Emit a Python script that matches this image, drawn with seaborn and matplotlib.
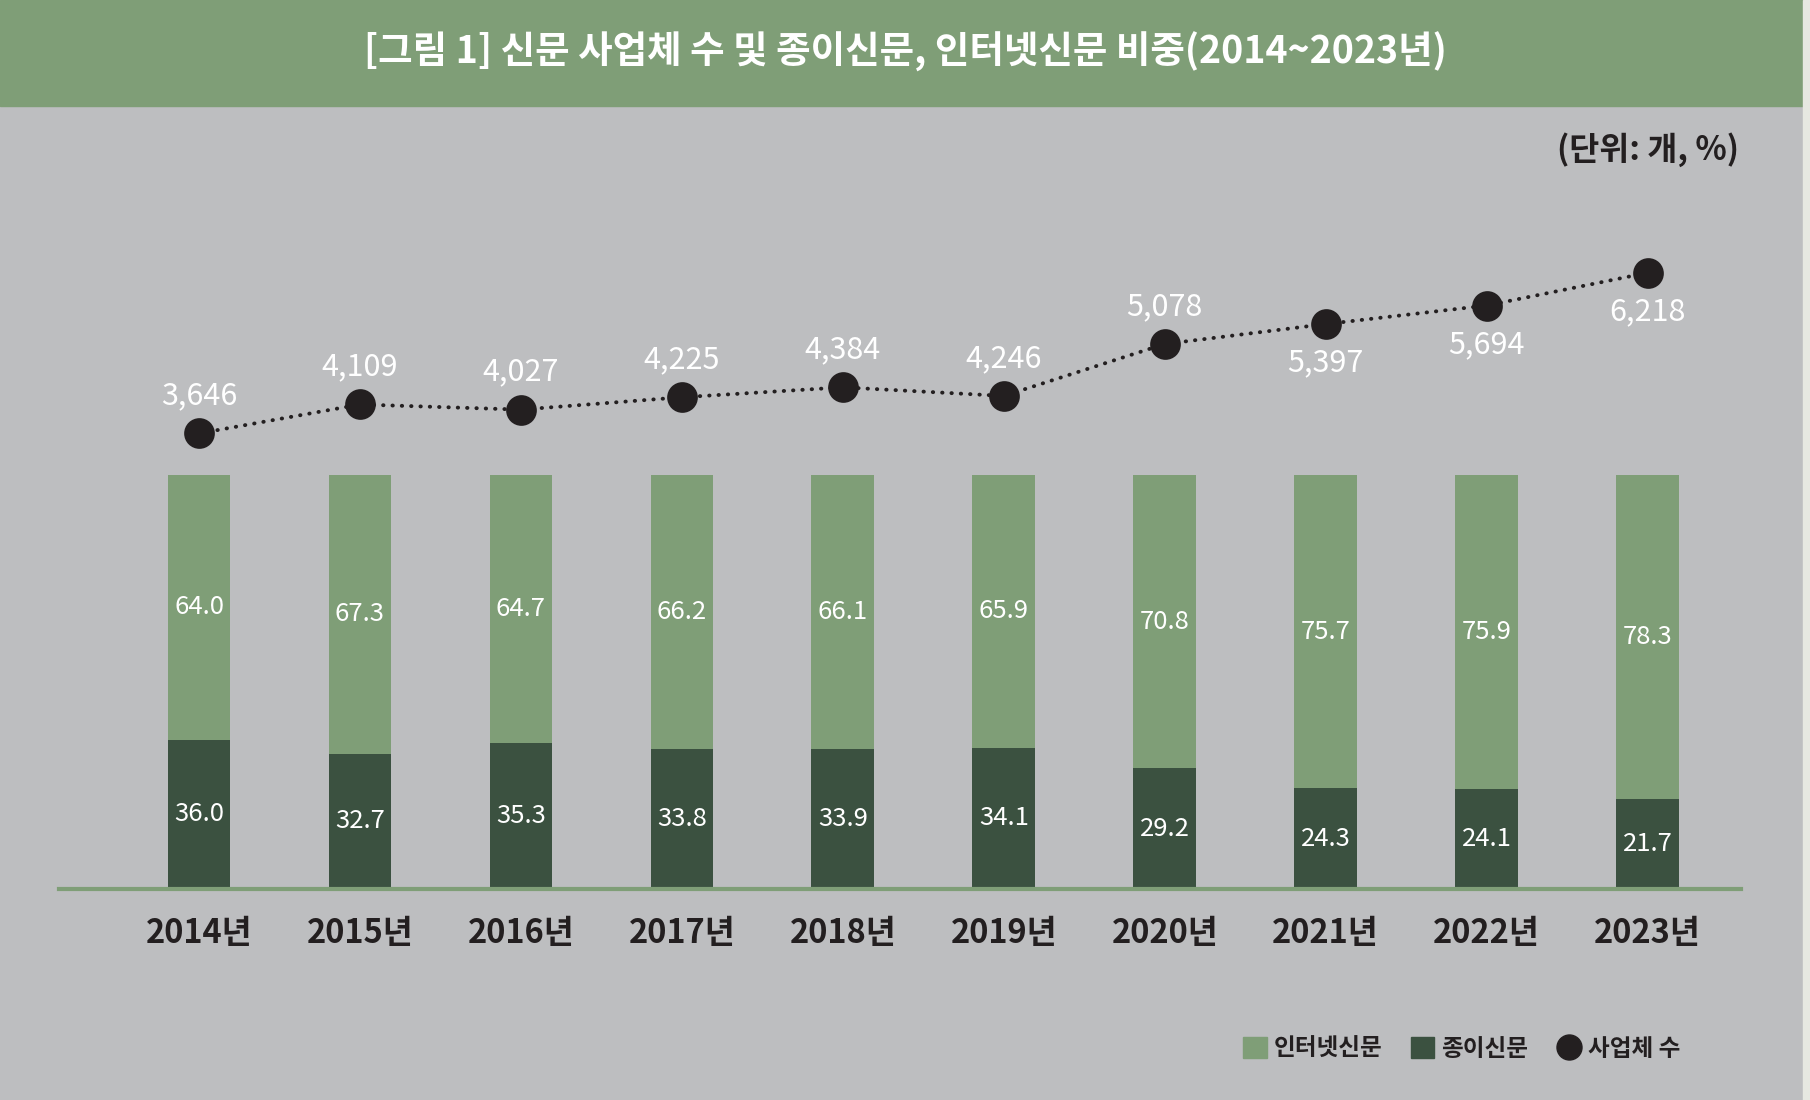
import numpy as np
import matplotlib.pyplot as plt
import seaborn as sns
from matplotlib.patches import Rectangle, Patch
from matplotlib.lines import Line2D

# data
years = ["2014년", "2015년", "2016년", "2017년", "2018년",
         "2019년", "2020년", "2021년", "2022년", "2023년"]
paper_share = [36.0, 32.7, 35.3, 33.8, 33.9, 34.1, 29.2, 24.3, 24.1, 21.7]
internet_share = [64.0, 67.3, 64.7, 66.2, 66.1, 65.9, 70.8, 75.7, 75.9, 78.3]
companies = [3646, 4109, 4027, 4225, 4384, 4246, 5078, 5397, 5694, 6218]
label_below = [False, False, False, False, False, False, False, True, True, True]

light_green = "#7f9e77"
dark_green = "#3b5140"
bg_gray = "#bdbec0"
ink = "#231f20"

sns.set_theme(style="white")
plt.rcParams['font.family'] = ['Noto Sans CJK KR', 'DejaVu Sans']

fig = plt.figure(figsize=(18.1, 11), dpi=100, facecolor=bg_gray)

# title band + right strip
fig.patches.append(Rectangle((0, 1 - 106 / 1100), 1, 106 / 1100, transform=fig.transFigure,
                             color=light_green, zorder=0))
fig.patches.append(Rectangle((1803 / 1810, 0), 1, 1, transform=fig.transFigure,
                             color="#e6e8e1", zorder=1))
fig.text(0.5, 1 - 52 / 1100, "[그림 1] 신문 사업체 수 및 종이신문, 인터넷신문 비중(2014~2023년)",
         ha="center", va="center", color="white", fontsize=27, fontweight="bold")
fig.text(1739 / 1810, 1 - 150 / 1100, "(단위: 개, %)", ha="right", va="center",
         color=ink, fontsize=23.5, fontweight="bold")

ax = fig.add_axes([59 / 1810, 1 - 889 / 1100, (1741 - 59) / 1810, (889 - 107) / 1100])
ax.set_facecolor("none")

total = [p + i for p, i in zip(paper_share, internet_share)]
sns.barplot(x=years, y=total, ax=ax, color=light_green, saturation=1, width=0.39, linewidth=0)
sns.barplot(x=years, y=paper_share, ax=ax, color=dark_green, saturation=1, width=0.39, linewidth=0)

for i in range(len(years)):
    ax.text(i, paper_share[i] / 2, f"{paper_share[i]:.1f}", ha="center", va="center",
            color="white", fontsize=18.5, fontweight="medium")
    ax.text(i, paper_share[i] + internet_share[i] / 2, f"{internet_share[i]:.1f}",
            ha="center", va="center", color="white", fontsize=18.5, fontweight="medium")

ax.set_ylim(0, 782 / 4.14)
ax.set_xlim(-0.87, 9.58)
ax.set_yticks([])
ax.set_xlabel("")
ax.set_ylabel("")
for s in ["top", "left", "right"]:
    ax.spines[s].set_visible(False)
ax.spines["bottom"].set_color(light_green)
ax.spines["bottom"].set_linewidth(3)
ax.spines["bottom"].set_zorder(5)
ax.tick_params(axis="x", length=0, pad=20, labelsize=23.5, labelcolor=ink)
for lbl in ax.get_xticklabels():
    lbl.set_fontweight("bold")

# company count line
ax2 = ax.twinx()
sns.pointplot(x=years, y=companies, ax=ax2, color=ink, markers="o", linestyles=":",
              errorbar=None, markersize=20, linewidth=2.8)
for ln in ax2.lines:
    ln.set_linestyle((0, (0.1, 2.3)))
    ln.set_dash_capstyle("round")
ax2.set_ylim(-3650, 8873)
ax2.set_xlim(-0.87, 9.58)
ax2.set_yticks([])
ax2.set_ylabel("")
for s in ax2.spines.values():
    s.set_visible(False)

for i, c in enumerate(companies):
    dy = -28 if label_below[i] else 27
    ax2.annotate(f"{c:,}", (i, c), xytext=(0, dy), textcoords="offset points",
                 ha="center", va="center", color="white", fontsize=22, fontweight="medium")

handles = [Patch(color=light_green, label="인터넷신문"),
           Patch(color=dark_green, label="종이신문"),
           Line2D([], [], color=ink, marker="o", linestyle="none", markersize=18, label="사업체 수")]
leg = fig.legend(handles=handles, loc="center left", bbox_to_anchor=(1243 / 1810, 1 - 1049 / 1100),
                 ncol=3, frameon=False, fontsize=17, handlelength=1.0, handleheight=1.0,
                 handletextpad=0.3, columnspacing=1.2, borderpad=0, borderaxespad=0)
for t in leg.get_texts():
    t.set_fontweight("bold")
    t.set_color(ink)

fig.savefig("out.png", dpi=100, facecolor=bg_gray)
